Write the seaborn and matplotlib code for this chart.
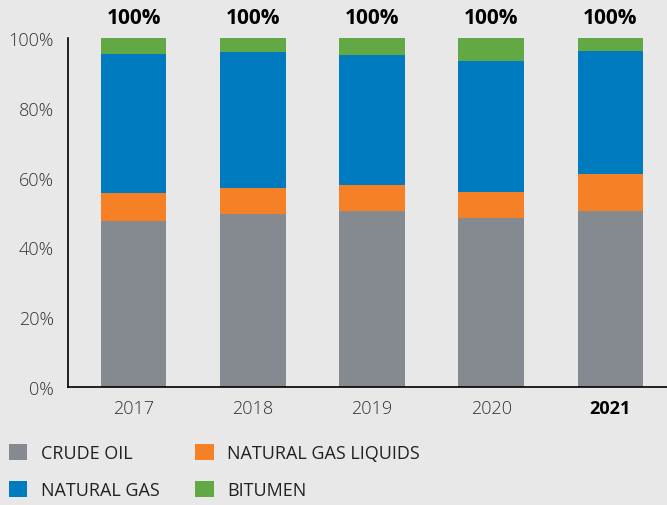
import matplotlib
matplotlib.use("Agg")
import matplotlib.pyplot as plt
import matplotlib.patches as mpatches
import seaborn as sns
import pandas as pd

# valeurs (% de la production)
years = ["2017", "2018", "2019", "2020", "2021"]
crude_oil = [47.7, 49.7, 50.3, 48.3, 50.3]
natural_gas_liquids = [7.8, 7.2, 7.5, 7.7, 10.6]
natural_gas = [39.9, 39.1, 37.3, 37.4, 35.4]
bitumen = [4.6, 4.0, 4.9, 6.6, 3.7]
total_labels = ["100%", "100%", "100%", "100%", "100%"]
series_names = ["CRUDE OIL", "NATURAL GAS LIQUIDS", "NATURAL GAS", "BITUMEN"]
series_colors = ["#858990", "#f68026", "#007bc0", "#62a946"]

BG = "#e8e8e8"

sns.set_theme(style="white")
plt.rcParams["font.family"] = ["Open Sans", "DejaVu Sans"]

df = pd.DataFrame({
    "year": years,
    "CRUDE OIL": crude_oil,
    "NATURAL GAS LIQUIDS": natural_gas_liquids,
    "NATURAL GAS": natural_gas,
    "BITUMEN": bitumen,
})
# cumul pour empiler les barres
cum = df[series_names].cumsum(axis=1)
cum["year"] = df["year"]

fig = plt.figure(figsize=(6.67, 5.06), dpi=100, facecolor=BG)
ax = fig.add_axes([68 / 667, 1 - 388 / 506, 1 - 68 / 667, (388 - 39) / 506])
ax.set_facecolor(BG)

# on dessine du plus haut cumul au plus bas
for name, color in reversed(list(zip(series_names, series_colors))):
    sns.barplot(data=cum, x="year", y=name, color=color, saturation=1,
                width=0.55, errorbar=None, ax=ax, zorder=2, linewidth=0)

ax.set_xlim(-0.55, 4.475)
ax.set_ylim(0, 100)
ax.set_yticks([0, 20, 40, 60, 80, 100])
ax.set_yticklabels([f"{v}%" for v in [0, 20, 40, 60, 80, 100]])
ax.set_xlabel("")
ax.set_ylabel("")
ax.tick_params(axis="y", length=0, pad=10, labelsize=13, labelcolor="#333333")
ax.tick_params(axis="x", length=0, pad=9, labelsize=13, labelcolor="#333333")
for lbl in ax.get_yticklabels() + ax.get_xticklabels():
    lbl.set_fontweight("light")
for lbl in ax.get_xticklabels():
    if lbl.get_text() == "2021":
        lbl.set_fontweight("bold")
        lbl.set_color("black")

for side in ["top", "right"]:
    ax.spines[side].set_visible(False)
for side in ["left", "bottom"]:
    ax.spines[side].set_color("black")
    ax.spines[side].set_linewidth(1.2)

# totaux au-dessus des barres
for i, txt in enumerate(total_labels):
    ax.text(i, 106.0, txt, ha="center", va="center", fontsize=15,
            fontweight="bold", color="black", clip_on=False)

# légende en bas
order = [0, 2, 1, 3]
handles = [mpatches.Patch(color=series_colors[k], linewidth=0) for k in order]
labels = [series_names[k] for k in order]
fig.legend(handles, labels, ncol=2, loc="upper left",
           bbox_to_anchor=(9 / 667, 1 - 445 / 506), frameon=False,
           fontsize=13, handlelength=1.0, handleheight=1.0,
           handletextpad=0.75, columnspacing=2.0, labelspacing=1.05,
           borderpad=0, borderaxespad=0, labelcolor="#222222")

fig.savefig("out.png", dpi=100, facecolor=BG)
